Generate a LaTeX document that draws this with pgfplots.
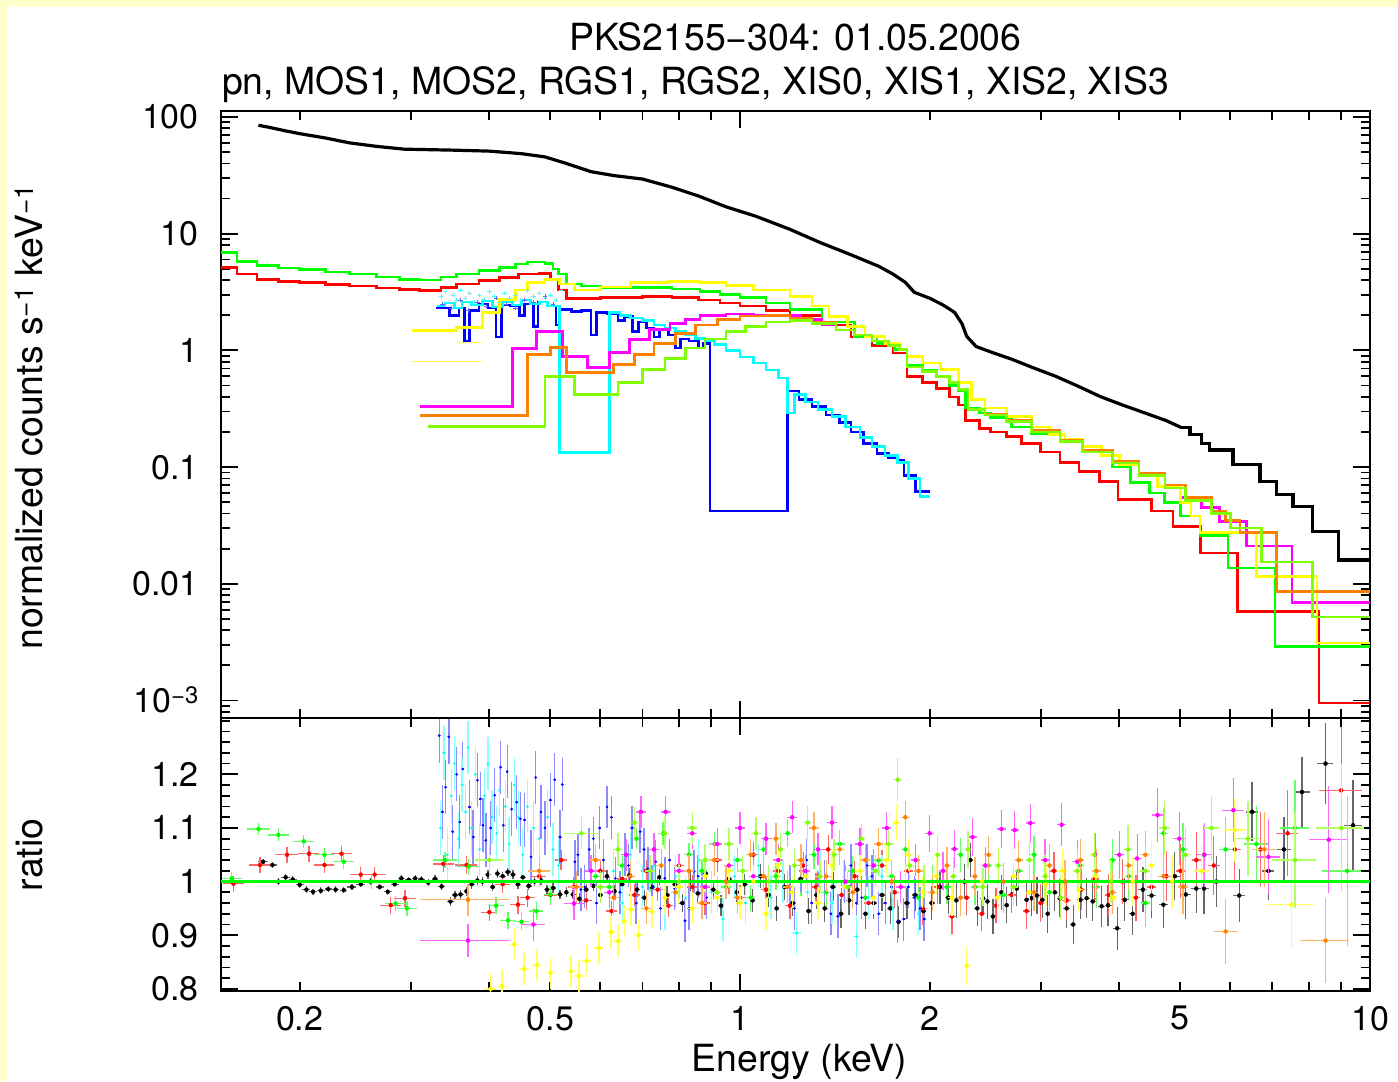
\documentclass[border=0pt]{standalone}
\usepackage{fontspec}
\setmainfont{TeX Gyre Heros}
\usepackage{pgfplots}
\pgfplotsset{compat=1.18}
\definecolor{bgyel}{HTML}{FFFFCC}
\definecolor{xlime}{HTML}{80FF00}
\definecolor{xorange}{HTML}{FF8000}
\definecolor{xred}{HTML}{FF0000}
\definecolor{xgreen}{HTML}{00FF00}
\definecolor{xblue}{HTML}{0000FF}
\definecolor{xcyan}{HTML}{00FFFF}
\definecolor{xmagenta}{HTML}{FF00FF}
\definecolor{xyellow}{HTML}{FFFF00}
\newcommand{\tfont}{\fontsize{37.4bp}{44bp}\selectfont}
\newcommand{\kfont}{\fontsize{34bp}{40bp}\selectfont}
\pgfplotsset{
  mdl/.style={const plot mark left, no marks, line width=2.6bp, color=#1},
  ratiopts/.style={only marks, mark=none, color=#1,
    error bars/.cd, x dir=both, x explicit, y dir=both, y explicit, error mark=none,
    error bar style={line width=1.3bp, color=#1!60!white}},
  ratiodots/.style={only marks, mark=*, mark size=1.1bp, color=#1, mark options={draw=none, fill=#1},
    error bars/.cd, x dir=both, x explicit, y dir=both, y explicit, error mark=none,
    error bar style={line width=1.3bp, color=#1!45!white}},
}
\begin{document}
\begin{tikzpicture}[x=1bp,y=1bp]
\fill[bgyel] (0,0) rectangle (1398,1081);
\fill[white] (7,0) rectangle (1398,1074);
\path[use as bounding box] (0,0) rectangle (1398,1081);

\node[font=\tfont, anchor=base, inner sep=0pt] at (795.5,1030) {PKS2155−304: 01.05.2006};
\node[font=\tfont, anchor=base west, inner sep=0pt] at (222,986) {pn, MOS1, MOS2, RGS1, RGS2, XIS0, XIS1, XIS2, XIS3};
\node[font=\tfont, anchor=base, inner sep=0pt, rotate=90] at (42,664) {normalized counts s\textsuperscript{−1} keV\textsuperscript{−1}};
\node[font=\tfont, anchor=base, inner sep=0pt, rotate=90] at (42,226) {ratio};
\node[font=\tfont, anchor=base, inner sep=0pt] at (799.5,10) {Energy (keV)};

% ---------------- top panel ----------------
\begin{axis}[at={(221bp,363bp)}, anchor=south west,
  scale only axis, width=1149bp, height=607bp,
  xmode=log, ymode=log, xmin=0.150, xmax=10, ymin=7.08e-4, ymax=112.6,
  axis line style={line width=2.4bp}, tick style={line width=1.8bp, black},
  major tick length=17bp, minor tick length=9bp, tick align=inside,
  xtick pos=both, ytick pos=both,
  tick label style={font=\kfont, inner sep=0pt},
  yticklabel style={anchor=base east, xshift=-22bp, yshift=-12bp},
  xtick={1,10}, xticklabels={,},
  minor xtick={0.2,0.3,0.4,0.5,0.6,0.7,0.8,0.9,2,3,4,5,6,7,8,9},
  ytick={0.001,0.01,0.1,1,10,100},
  yticklabels={10\textsuperscript{−3},0.01,0.1,1,10,100},
  minor ytick={0.0008,0.0009,0.002,0.003,0.004,0.005,0.006,0.007,0.008,0.009,
    0.02,0.03,0.04,0.05,0.06,0.07,0.08,0.09,0.2,0.3,0.4,0.5,0.6,0.7,0.8,0.9,
    2,3,4,5,6,7,8,9,20,30,40,50,60,70,80,90}]
% pn
\addplot[line width=3.2bp, black] coordinates {(0.172,85)(0.18,81)(0.19,76)(0.2,72)(0.22,66)(0.24,60)(0.265,56)(0.293,53)(0.32,52.5)(0.35,52)(0.4,51)(0.45,48.5)(0.49,45.5)(0.53,40)(0.58,34)(0.63,31.5)(0.7,29.4)(0.78,25)(0.86,21)(0.95,17)(1.06,14.1)(1.2,10.9)(1.34,8.4)(1.5,6.6)(1.66,5.26)(1.75,4.5)(1.83,3.83)(1.89,3.15)(2.0,2.8)(2.1,2.45)(2.19,2.12)(2.25,1.7)(2.29,1.32)(2.37,1.08)(2.5,0.97)(2.7,0.84)(2.9,0.72)(3.17,0.6)(3.45,0.49)(3.74,0.40)(4.05,0.34)(4.4,0.29)(4.75,0.25)(5.0,0.22)};
\addplot[const plot mark left, no marks, line width=3.2bp, black] coordinates {(5.0,0.22)(5.18,0.19)(5.4,0.16)(5.57,0.14)(6.06,0.105)(6.69,0.075)(7.11,0.058)(7.55,0.046)(8.11,0.028)(8.9,0.016)(10,0.016)};
% MOS1
\addplot[mdl=xred] coordinates {(0.150,5.16)(0.159,4.5)(0.171,4.06)(0.185,3.9)(0.2,3.8)(0.22,3.65)(0.24,3.55)(0.265,3.42)(0.288,3.33)(0.31,3.27)(0.335,3.45)(0.355,3.7)(0.385,3.95)(0.415,4.23)(0.445,4.5)(0.48,4.58)(0.5,4.06)(0.515,3.3)(0.53,2.8)(0.6,2.85)(0.7,2.9)(0.78,2.85)(0.86,2.7)(0.93,2.55)(1.0,2.4)(1.1,2.2)(1.2,2.0)(1.35,1.65)(1.5,1.3)(1.62,1.1)(1.75,0.95)(1.84,0.6)(1.95,0.53)(2.05,0.47)(2.15,0.4)(2.22,0.34)(2.28,0.25)(2.4,0.215)(2.5,0.2)(2.65,0.183)(2.8,0.16)(3.0,0.135)(3.22,0.11)(3.45,0.092)(3.72,0.075)(3.98,0.0525)(4.5,0.042)(4.87,0.031)(5.38,0.0184)(6.16,0.0058)(8.3,0.00095)(10,0.00095)};
% MOS2
\addplot[mdl=xgreen] coordinates {(0.150,6.9)(0.159,5.8)(0.171,5.35)(0.185,5.1)(0.2,4.96)(0.22,4.7)(0.24,4.5)(0.265,4.25)(0.288,4.06)(0.31,4.0)(0.335,4.25)(0.355,4.5)(0.385,4.85)(0.415,5.16)(0.44,5.5)(0.46,5.7)(0.49,5.55)(0.505,5.0)(0.515,4.5)(0.53,3.7)(0.56,3.55)(0.6,3.47)(0.7,3.45)(0.78,3.35)(0.864,3.2)(0.93,3.0)(1.0,2.85)(1.1,2.55)(1.2,2.25)(1.35,1.75)(1.52,1.32)(1.65,1.15)(1.76,1.02)(1.84,0.75)(1.95,0.68)(2.05,0.6)(2.15,0.5)(2.22,0.45)(2.28,0.32)(2.4,0.29)(2.5,0.265)(2.7,0.22)(2.9,0.195)(3.22,0.165)(3.5,0.135)(3.9,0.1)(4.17,0.074)(4.47,0.06)(4.72,0.05)(5.0,0.038)(5.37,0.026)(5.95,0.0137)(7.07,0.0029)(10,0.0029)};
% RGS1
\addplot[mdl=xblue] coordinates {(0.329,2.3)(0.346,2.0)(0.358,2.3)(0.365,1.2)(0.372,2.2)(0.385,2.5)(0.398,2.3)(0.41,1.3)(0.418,2.45)(0.432,2.4)(0.447,2.0)(0.455,2.5)(0.47,1.6)(0.478,2.6)(0.495,2.4)(0.51,1.65)(0.518,2.25)(0.54,2.15)(0.56,2.2)(0.58,1.35)(0.592,2.1)(0.615,2.05)(0.64,1.8)(0.655,1.95)(0.675,1.45)(0.69,1.75)(0.71,1.55)(0.73,1.3)(0.745,1.5)(0.77,1.35)(0.79,1.05)(0.805,1.25)(0.83,1.2)(0.86,1.05)(0.875,1.15)(0.896,0.042)(1.19,0.45)(1.24,0.38)(1.30,0.33)(1.37,0.28)(1.44,0.24)(1.5,0.2)(1.57,0.16)(1.65,0.13)(1.72,0.12)(1.78,0.115)(1.82,0.085)(1.9,0.062)(2.0,0.062)};
% RGS2
\addplot[mdl=xcyan] coordinates {(0.33,2.4)(0.34,2.55)(0.352,2.3)(0.362,2.6)(0.375,2.45)(0.39,2.65)(0.405,2.35)(0.42,2.6)(0.435,2.45)(0.45,2.7)(0.465,2.5)(0.48,2.6)(0.495,2.4)(0.517,0.133)(0.621,2.1)(0.645,2.0)(0.67,1.9)(0.7,1.8)(0.73,1.65)(0.76,1.55)(0.79,1.45)(0.82,1.35)(0.85,1.27)(0.88,1.2)(0.91,1.12)(0.95,1.0)(1.0,0.88)(1.05,0.78)(1.1,0.68)(1.15,0.58)(1.19,0.29)(1.22,0.42)(1.27,0.36)(1.33,0.31)(1.4,0.27)(1.47,0.22)(1.55,0.18)(1.62,0.15)(1.7,0.125)(1.78,0.11)(1.85,0.08)(1.93,0.056)(2.0,0.056)};
\addplot[only marks, mark=+, mark size=2.2bp, xcyan!70!white] coordinates {(0.335,2.9)(0.34,3.2)(0.345,2.6)(0.35,3.0)(0.355,2.7)(0.36,3.3)(0.366,2.8)(0.372,3.1)(0.378,2.6)(0.385,3.0)(0.392,2.75)(0.4,3.2)(0.407,2.9)(0.415,2.6)(0.423,3.1)(0.43,2.8)(0.44,3.0)(0.45,2.7)(0.46,3.25)(0.47,2.9)(0.48,3.1)(0.49,2.8)(0.5,3.0)(0.51,2.7)(0.52,3.3)};
\addplot[only marks, mark=+, mark size=2.2bp, xblue!60!white] coordinates {(0.337,2.5)(0.348,2.3)(0.36,2.7)(0.37,2.2)(0.383,2.6)(0.395,2.4)(0.41,2.8)(0.425,2.5)(0.44,2.3)(0.455,2.7)(0.47,2.6)(0.49,2.9)(0.505,2.5)};
% XIS0
\addplot[mdl=xmagenta] coordinates {(0.31,0.33)(0.435,1.04)(0.475,1.46)(0.523,0.888)(0.573,0.715)(0.621,0.96)(0.668,1.24)(0.719,1.51)(0.774,1.7)(0.82,1.85)(0.864,2.0)(0.95,2.05)(1.05,2.0)(1.15,1.98)(1.25,1.85)(1.35,1.65)(1.42,1.5)(1.52,1.35)(1.62,1.2)(1.72,1.1)(1.79,1.02)(1.84,0.72)(1.95,0.66)(2.05,0.6)(2.15,0.53)(2.22,0.46)(2.3,0.31)(2.45,0.28)(2.65,0.246)(2.9,0.2)(3.22,0.165)(3.5,0.135)(3.9,0.11)(4.3,0.085)(4.73,0.068)(5.0,0.055)(5.4,0.045)(5.77,0.034)(6.37,0.021)(7.52,0.0069)(10,0.0069)};
% XIS1
\addplot[mdl=xyellow] coordinates {(0.302,1.48)(0.355,1.58)(0.39,2.1)(0.415,2.74)(0.44,3.3)(0.46,3.8)(0.49,4.06)(0.517,3.7)(0.546,3.3)(0.6,3.5)(0.67,3.8)(0.77,3.9)(0.864,3.83)(0.95,3.6)(1.05,3.3)(1.2,2.9)(1.3,2.4)(1.385,1.96)(1.48,1.6)(1.58,1.32)(1.7,1.15)(1.79,1.02)(1.84,0.89)(1.95,0.78)(2.08,0.69)(2.22,0.53)(2.33,0.38)(2.45,0.32)(2.65,0.27)(2.9,0.22)(3.1,0.19)(3.28,0.172)(3.5,0.15)(3.75,0.125)(4.0,0.105)(4.3,0.088)(4.6,0.068)(5.0,0.05)(5.2,0.038)(5.37,0.0275)(6.6,0.0115)(8.24,0.0031)(10,0.0031)};
\addplot[xyellow!70!white, line width=1.3bp] coordinates {(0.30,0.8)(0.39,0.8)};
\addplot[xyellow!70!white, line width=1.3bp] coordinates {(0.355,1.17)(0.39,1.17)};
% XIS2
\addplot[mdl=xorange] coordinates {(0.31,0.277)(0.46,0.92)(0.5,1.06)(0.53,0.65)(0.63,0.76)(0.68,0.92)(0.73,1.15)(0.79,1.4)(0.85,1.65)(0.92,1.85)(1.0,1.97)(1.1,1.98)(1.2,1.9)(1.3,1.75)(1.42,1.5)(1.52,1.35)(1.62,1.2)(1.72,1.1)(1.79,1.02)(1.84,0.72)(1.95,0.66)(2.05,0.6)(2.15,0.53)(2.22,0.46)(2.3,0.31)(2.45,0.285)(2.65,0.25)(2.9,0.205)(3.22,0.17)(3.5,0.14)(3.9,0.112)(4.3,0.088)(4.73,0.07)(5.1,0.055)(5.6,0.042)(5.9,0.035)(6.22,0.0275)(7.11,0.0086)(10,0.0086)};
% XIS3
\addplot[mdl=xlime] coordinates {(0.32,0.223)(0.49,0.6)(0.546,0.42)(0.64,0.53)(0.7,0.69)(0.76,0.85)(0.82,1.05)(0.88,1.25)(0.95,1.45)(1.02,1.6)(1.1,1.75)(1.2,1.8)(1.3,1.7)(1.42,1.5)(1.52,1.35)(1.62,1.2)(1.72,1.1)(1.79,1.02)(1.84,0.72)(1.95,0.66)(2.05,0.6)(2.15,0.53)(2.22,0.46)(2.3,0.31)(2.45,0.28)(2.65,0.245)(2.9,0.2)(3.22,0.165)(3.5,0.135)(3.9,0.108)(4.3,0.085)(4.73,0.066)(5.1,0.052)(5.6,0.04)(6.0,0.03)(6.73,0.0154)(8.11,0.0052)(10,0.0052)};
\end{axis}

% ---------------- ratio panel, part 1 (data only) ----------------
\begin{axis}[at={(221bp,90bp)}, anchor=south west,
  scale only axis, width=1149bp, height=273bp,
  xmode=log, xmin=0.150, xmax=10, ymin=0.796, ymax=1.305, hide axis]
% pn
\addplot[ratiopts=black] table[x index=0,y index=1,x error index=2,y error index=3,row sep=\\] {
0.175 1.037 .003 .006\\ 0.181 1.031 .003 .006\\ 0.185 1.000 .003 .006\\ 0.190 1.008 .003 .006\\
0.195 1.004 .003 .006\\ 0.200 0.994 .003 .006\\ 0.205 0.985 .003 .006\\ 0.210 0.981 .003 .006\\
0.216 0.983 .003 .006\\ 0.222 0.986 .003 .006\\ 0.228 0.985 .003 .006\\ 0.235 0.984 .003 .006\\
0.242 0.990 .004 .006\\ 0.250 0.995 .004 .006\\ 0.259 1.000 .004 .006\\ 0.268 0.990 .004 .006\\
0.276 0.981 .004 .006\\ 0.283 0.995 .004 .006\\ 0.290 1.006 .004 .006\\ 0.298 1.003 .004 .006\\
0.305 1.006 .004 .006\\ 0.312 1.004 .004 .006\\ 0.320 0.998 .004 .006\\ 0.328 1.005 .004 .007\\
0.336 0.991 .004 .007\\ 0.347 0.963 .004 .008\\ 0.353 0.975 .004 .008\\ 0.360 0.976 .004 .008\\
0.368 0.982 .004 .008\\ 0.375 0.995 .004 .008\\ 0.383 1.002 .004 .008\\ 0.390 1.000 .004 .008\\
0.398 1.013 .004 .008\\ 0.405 0.990 .004 .008\\ 0.412 1.015 .004 .008\\ 0.420 1.010 .005 .008\\
0.428 1.018 .005 .008\\ 0.436 1.013 .005 .008\\ 0.444 0.995 .005 .008\\ 0.452 1.008 .005 .008\\
0.462 0.992 .005 .008\\ 0.472 1.000 .005 .008\\ 0.483 1.002 .005 .008\\ 0.494 0.985 .005 .009\\
0.505 0.988 .005 .009\\ 0.518 0.976 .005 .009\\ 0.530 0.980 .005 .009\\ 0.543 0.976 .006 .009\\
0.556 0.968 .006 .010\\ 0.570 0.985 .006 .010\\ 0.585 0.992 .006 .010\\ 0.600 0.975 .006 .012\\
0.615 1.010 .006 .012\\ 0.632 0.982 .007 .012\\ 0.650 0.995 .007 .012\\ 0.668 1.012 .007 .014\\
0.686 0.985 .007 .014\\ 0.705 0.970 .008 .015\\ 0.725 0.990 .008 .015\\ 0.745 1.008 .008 .015\\
0.766 0.975 .008 .016\\ 0.788 0.995 .008 .016\\ 0.810 0.960 .009 .017\\ 0.833 1.000 .009 .017\\
0.857 0.978 .009 .018\\ 0.882 1.015 .009 .018\\ 0.907 0.985 .010 .018\\ 0.933 0.955 .010 .020\\
0.960 1.005 .010 .020\\ 0.988 0.980 .010 .020\\ 1.017 0.995 .011 .020\\ 1.047 0.965 .011 .022\\
1.078 1.010 .011 .022\\ 1.110 0.975 .012 .022\\ 1.143 0.950 .012 .024\\ 1.177 0.990 .012 .024\\
1.212 0.960 .013 .024\\ 1.248 1.005 .013 .025\\ 1.285 0.945 .014 .025\\ 1.323 0.975 .014 .026\\
1.363 0.950 .014 .026\\ 1.404 0.990 .015 .027\\ 1.446 0.940 .015 .027\\ 1.490 0.965 .016 .028\\
1.535 0.985 .016 .028\\ 1.582 0.940 .017 .029\\ 1.630 0.960 .017 .029\\ 1.680 0.975 .018 .030\\
1.732 0.950 .018 .030\\ 1.785 0.925 .019 .030\\ 1.840 0.960 .019 .030\\ 1.897 0.975 .020 .030\\
1.955 0.945 .021 .031\\ 2.015 0.960 .021 .031\\ 2.077 0.990 .022 .031\\ 2.140 0.970 .022 .031\\
2.205 0.965 .023 .032\\ 2.270 1.000 .024 .032\\ 2.320 1.040 .025 .032\\ 2.380 0.950 .025 .032\\
2.430 0.969 .025 .032\\ 2.470 0.963 .025 .032\\ 2.520 0.935 .025 .032\\ 2.600 0.980 .025 .033\\
2.650 0.956 .025 .033\\ 2.700 0.976 .025 .033\\ 2.750 0.987 .025 .033\\ 2.850 0.966 .03 .034\\
2.900 0.969 .03 .034\\ 2.960 0.974 .03 .034\\ 3.020 0.966 .03 .034\\ 3.080 0.940 .03 .035\\
3.160 0.980 .04 .035\\ 3.220 0.969 .04 .035\\ 3.300 0.950 .04 .036\\ 3.380 0.920 .04 .036\\
3.470 0.966 .04 .036\\ 3.550 0.969 .04 .037\\ 3.630 0.963 .04 .037\\ 3.750 0.954 .05 .038\\
3.840 0.956 .05 .038\\ 3.970 0.913 .06 .040\\ 4.080 0.966 .06 .040\\ 4.200 0.940 .06 .040\\
4.360 0.985 .07 .042\\ 4.500 0.974 .07 .042\\ 4.700 0.957 .08 .044\\ 4.900 1.010 .09 .045\\
5.100 0.976 .10 .046\\ 5.300 0.987 .10 .046\\ 5.450 0.987 .10 .047\\ 5.700 1.000 .12 .048\\
6.200 0.974 .13 .050\\ 6.500 1.130 .15 .055\\ 6.900 1.020 .15 .055\\ 7.300 1.060 .18 .060\\
7.800 1.167 .22 .065\\ 8.500 1.220 .25 .075\\ 9.400 1.105 .30 .085\\
};
% MOS1
\addplot[ratiopts=xred] table[x index=0,y index=1,x error index=2,y error index=3,row sep=\\] {
0.157 0.996 .006 .015\\ 0.173 1.031 .007 .015\\ 0.191 1.050 .008 .015\\ 0.207 1.052 .008 .015\\
0.219 1.031 .008 .015\\ 0.233 1.052 .009 .015\\ 0.250 1.013 .010 .015\\ 0.263 1.013 .011 .015\\
0.279 0.956 .011 .016\\ 0.294 0.969 .012 .016\\ 0.338 1.033 .013 .016\\ 0.368 1.031 .015 .016\\
0.400 0.943 .012 .016\\ 0.420 0.995 .012 .016\\ 0.444 0.957 .012 .017\\ 0.460 0.970 .012 .017\\
0.480 1.010 .012 .017\\ 0.500 0.975 .012 .018\\ 0.520 1.040 .012 .018\\ 0.545 0.990 .012 .018\\
0.570 0.965 .012 .018\\ 0.600 1.020 .012 .019\\ 0.625 0.945 .012 .019\\ 0.650 1.005 .012 .020\\
0.680 0.975 .013 .020\\ 0.710 1.020 .013 .020\\ 0.740 0.985 .014 .021\\ 0.770 0.955 .014 .021\\
0.800 1.030 .015 .021\\ 0.840 0.990 .015 .022\\ 0.880 0.960 .016 .022\\ 0.920 1.040 .017 .022\\
0.960 1.000 .017 .023\\ 1.000 0.970 .018 .023\\ 1.050 1.050 .018 .024\\ 1.100 0.985 .019 .024\\
1.150 1.020 .020 .025\\ 1.200 0.955 .021 .025\\ 1.260 1.030 .022 .026\\ 1.320 0.990 .023 .026\\
1.380 1.060 .024 .027\\ 1.450 0.975 .025 .027\\ 1.520 1.010 .026 .028\\ 1.600 0.960 .027 .028\\
1.680 1.030 .028 .029\\ 1.760 0.980 .029 .030\\ 1.850 1.020 .030 .030\\ 1.950 0.950 .030 .031\\
2.060 0.990 .030 .031\\ 2.170 0.935 .030 .032\\ 2.290 0.970 .030 .032\\ 2.420 0.940 .030 .033\\
2.550 0.955 .030 .033\\ 2.700 0.975 .040 .034\\ 2.850 0.945 .040 .034\\ 3.000 0.960 .040 .035\\
3.150 1.020 .040 .036\\ 3.300 0.965 .050 .037\\ 3.480 0.985 .050 .038\\ 3.660 1.005 .050 .039\\
3.850 0.975 .050 .040\\ 4.050 1.000 .060 .042\\ 4.250 0.970 .060 .043\\ 4.500 0.990 .070 .045\\
4.750 1.010 .080 .047\\ 5.000 1.020 .080 .050\\ 5.300 1.040 .090 .052\\ 5.650 1.030 .120 .055\\
6.100 1.060 .150 .060\\ 6.700 1.060 .200 .070\\ 7.400 1.090 .300 .080\\ 9.000 1.170 .700 .130\\
};
% MOS2
\addplot[ratiopts=xgreen] table[x index=0,y index=1,x error index=2,y error index=3,row sep=\\] {
0.156 1.006 .006 .012\\ 0.172 1.098 .007 .012\\ 0.185 1.087 .007 .012\\ 0.203 1.075 .008 .012\\
0.219 1.050 .008 .013\\ 0.235 1.037 .009 .013\\ 0.260 1.000 .010 .013\\ 0.284 0.959 .011 .014\\
0.296 0.950 .011 .014\\ 0.340 1.040 .015 .015\\ 0.371 1.028 .015 .015\\ 0.410 0.955 .012 .016\\
0.428 0.928 .012 .016\\ 0.450 0.925 .012 .016\\ 0.475 0.945 .012 .017\\ 0.500 0.976 .012 .017\\
0.590 1.010 .012 .018\\ 0.620 0.990 .012 .019\\ 0.650 1.030 .012 .019\\ 0.685 1.080 .013 .020\\
0.720 1.000 .013 .020\\ 0.755 1.090 .014 .021\\ 0.790 0.980 .014 .021\\ 0.830 1.050 .015 .022\\
0.870 1.020 .016 .022\\ 0.910 1.070 .016 .022\\ 0.950 0.990 .017 .023\\ 0.990 1.040 .017 .023\\
1.040 0.970 .018 .024\\ 1.090 1.060 .019 .024\\ 1.140 1.010 .020 .025\\ 1.190 1.090 .021 .025\\
1.250 1.000 .022 .026\\ 1.310 1.050 .023 .026\\ 1.370 0.980 .024 .027\\ 1.440 1.070 .025 .027\\
1.510 1.020 .026 .028\\ 1.580 0.970 .027 .028\\ 1.660 1.040 .028 .029\\ 1.740 1.010 .029 .030\\
1.830 1.060 .030 .030\\ 1.920 0.970 .030 .031\\ 2.020 1.000 .030 .031\\ 2.130 0.990 .030 .032\\
2.240 1.050 .030 .032\\ 2.360 0.990 .030 .033\\ 2.480 1.030 .030 .033\\ 2.620 0.975 .040 .034\\
2.770 1.020 .040 .034\\ 2.930 1.050 .040 .035\\ 3.100 0.980 .040 .036\\ 3.280 1.000 .050 .037\\
3.470 1.030 .050 .038\\ 3.680 0.990 .050 .039\\ 3.900 1.040 .050 .040\\ 4.140 1.010 .060 .042\\
4.400 0.960 .070 .045\\ 4.700 1.090 .080 .047\\ 5.050 1.060 .090 .050\\ 5.450 1.050 .120 .055\\
5.900 1.060 .150 .060\\ 6.600 1.070 .300 .070\\ 7.600 1.100 .400 .090\\ 9.200 1.020 .800 .140\\
};
% RGS1
\addplot[ratiodots=xblue] table[x index=0,y index=1,x error index=2,y error index=3,row sep=\\] {
0.333 1.272 .002 .05\\ 0.337 1.130 .002 .05\\ 0.341 1.176 .002 .05\\ 0.345 1.270 .002 .05\\
0.350 1.093 .002 .05\\ 0.355 1.200 .002 .05\\ 0.359 1.111 .002 .05\\ 0.363 1.210 .002 .05\\
0.372 1.139 .002 .05\\ 0.377 1.083 .002 .05\\ 0.383 1.189 .002 .05\\ 0.387 1.154 .002 .05\\
0.391 1.105 .002 .05\\ 0.395 1.077 .002 .05\\ 0.402 1.100 .002 .05\\ 0.408 1.161 .002 .05\\
0.417 1.213 .002 .05\\ 0.421 1.105 .002 .05\\ 0.427 1.205 .002 .05\\ 0.434 1.135 .002 .05\\
0.442 1.148 .002 .05\\ 0.448 1.117 .002 .05\\ 0.455 1.115 .002 .05\\ 0.466 1.046 .002 .05\\
0.474 1.194 .002 .05\\ 0.483 1.130 .002 .05\\ 0.490 1.100 .002 .05\\ 0.500 1.152 .003 .05\\
0.508 1.190 .003 .05\\ 0.518 1.083 .003 .05\\ 0.522 1.181 .003 .05\\ 0.547 1.037 .003 .04\\
0.559 0.985 .003 .04\\ 0.576 1.060 .003 .04\\ 0.599 1.100 .003 .04\\ 0.615 1.139 .003 .04\\
0.634 1.006 .004 .04\\ 0.657 1.050 .004 .04\\ 0.674 1.100 .004 .04\\ 0.694 1.093 .004 .04\\
0.714 1.024 .004 .04\\ 0.735 1.037 .004 .04\\ 0.760 1.006 .004 .04\\ 0.788 0.987 .005 .04\\
0.818 0.927 .005 .04\\ 0.845 1.019 .005 .04\\ 0.870 0.980 .005 .04\\ 1.200 0.990 .008 .04\\
1.250 1.020 .008 .04\\ 1.300 0.960 .008 .04\\ 1.360 1.000 .008 .04\\ 1.430 0.935 .010 .04\\
1.500 1.030 .010 .04\\ 1.560 0.970 .010 .04\\ 1.620 1.010 .010 .04\\ 1.700 0.960 .012 .04\\
1.780 0.926 .012 .04\\ 1.850 0.990 .012 .04\\ 1.930 0.950 .012 .04\\
0.553 1.050 .003 .04\\ 0.567 0.990 .003 .04\\ 0.585 1.080 .003 .04\\ 0.592 0.960 .003 .04\\
0.607 1.040 .003 .04\\ 0.625 1.120 .004 .04\\ 0.645 0.980 .004 .04\\ 0.665 1.030 .004 .04\\
0.684 0.960 .004 .04\\ 0.704 1.060 .004 .04\\ 0.725 0.990 .004 .04\\ 0.748 0.950 .004 .04\\
0.773 1.040 .005 .04\\ 0.800 1.000 .005 .04\\ 0.830 0.950 .005 .04\\ 0.858 1.010 .005 .04\\
0.885 0.970 .005 .04\\ 1.220 0.950 .008 .04\\ 1.275 1.040 .008 .04\\ 1.330 0.980 .008 .04\\
1.395 0.940 .010 .04\\ 1.465 1.000 .010 .04\\ 1.530 0.960 .010 .04\\ 1.590 1.030 .010 .04\\
1.660 0.940 .012 .04\\ 1.740 0.990 .012 .04\\ 1.820 0.930 .012 .04\\ 1.890 0.970 .012 .04\\
1.960 0.930 .012 .04\\
};
% RGS2
\addplot[ratiodots=xcyan] table[x index=0,y index=1,x error index=2,y error index=3,row sep=\\] {
0.335 1.100 .002 .05\\ 0.339 1.240 .002 .05\\ 0.343 1.050 .002 .05\\ 0.348 1.160 .002 .05\\
0.352 1.220 .002 .05\\ 0.357 1.080 .002 .05\\ 0.362 1.180 .002 .05\\ 0.367 1.130 .002 .05\\
0.370 1.250 .002 .05\\ 0.375 1.100 .002 .05\\ 0.380 1.200 .002 .05\\ 0.386 1.060 .002 .05\\
0.393 1.160 .002 .05\\ 0.398 1.220 .002 .05\\ 0.404 1.120 .002 .05\\ 0.411 1.090 .002 .05\\
0.415 1.170 .002 .05\\ 0.424 1.140 .002 .05\\ 0.430 1.070 .002 .05\\ 0.438 1.180 .002 .05\\
0.445 1.120 .002 .05\\ 0.452 1.050 .002 .05\\ 0.460 1.140 .002 .05\\ 0.470 1.100 .002 .05\\
0.480 1.080 .002 .05\\ 0.495 1.120 .003 .05\\ 0.505 1.060 .003 .05\\ 0.515 1.030 .003 .05\\
0.630 1.020 .004 .04\\ 0.650 0.960 .004 .04\\ 0.670 1.050 .004 .04\\ 0.700 0.990 .004 .04\\
0.730 1.030 .004 .04\\ 0.760 0.950 .004 .04\\ 0.790 1.010 .005 .04\\ 0.820 0.970 .005 .04\\
0.860 1.040 .005 .04\\ 0.900 0.980 .006 .04\\ 0.940 0.930 .006 .04\\ 0.980 1.010 .006 .04\\
1.020 0.960 .006 .04\\ 1.070 1.030 .007 .04\\ 1.120 0.970 .007 .04\\ 1.170 1.000 .008 .04\\
1.230 0.904 .020 .04\\ 1.280 0.980 .008 .04\\ 1.340 1.020 .008 .04\\ 1.400 0.960 .010 .04\\
1.460 1.000 .010 .04\\ 1.530 0.898 .020 .04\\ 1.600 0.970 .010 .04\\ 1.680 1.010 .012 .04\\
1.750 0.950 .012 .04\\ 1.830 0.990 .012 .04\\ 1.920 0.940 .012 .04\\
};
\end{axis}

% ---------------- ratio panel, part 2 (with frame) ----------------
\begin{axis}[at={(221bp,90bp)}, anchor=south west,
  scale only axis, width=1149bp, height=273bp,
  xmode=log, xmin=0.150, xmax=10, ymin=0.796, ymax=1.305,
  axis line style={line width=2.4bp}, tick style={line width=1.8bp, black},
  major tick length=17bp, minor tick length=9bp, tick align=inside,
  xtick pos=both, ytick pos=both,
  tick label style={font=\kfont, inner sep=0pt},
  xticklabel style={anchor=north, yshift=-15bp},
  yticklabel style={anchor=base east, xshift=-22bp, yshift=-12bp},
  xtick={1,10}, xticklabels={1,10},
  minor xtick={0.2,0.3,0.4,0.5,0.6,0.7,0.8,0.9,2,3,4,5,6,7,8,9},
  extra x ticks={0.2,0.5,2,5}, extra x tick labels={0.2,0.5,2,5},
  extra x tick style={major tick length=0pt},
  ytick={0.8,0.9,1,1.1,1.2}, yticklabels={0.8,0.9,1,1.1,1.2},
  minor ytick={0.82,0.84,0.86,0.88,0.92,0.94,0.96,0.98,1.02,1.04,1.06,1.08,1.12,1.14,1.16,1.18,1.22,1.24,1.26,1.28,1.3}]
% XIS0
\addplot[ratiopts=xmagenta] table[x index=0,y index=1,x error index=2,y error index=3,row sep=\\] {
0.370 0.890 .060 .03\\ 0.470 0.920 .020 .03\\ 0.545 0.959 .020 .03\\ 0.580 1.020 .012 .03\\
0.620 0.980 .012 .03\\ 0.660 1.050 .012 .03\\ 0.696 1.130 .012 .03\\ 0.730 1.060 .013 .03\\
0.762 1.130 .014 .03\\ 0.800 1.020 .014 .03\\ 0.840 1.090 .015 .03\\ 0.880 0.990 .016 .03\\
0.920 1.070 .016 .03\\ 0.960 1.030 .017 .03\\ 1.000 1.100 .018 .03\\ 1.050 1.010 .018 .03\\
1.100 1.080 .019 .03\\ 1.150 1.040 .020 .03\\ 1.210 1.120 .021 .03\\ 1.270 1.020 .022 .03\\
1.330 1.060 .023 .03\\ 1.400 1.110 .024 .03\\ 1.470 1.000 .025 .03\\ 1.550 1.070 .026 .03\\
1.630 1.030 .027 .03\\ 1.710 1.100 .028 .03\\ 1.800 0.990 .029 .03\\ 1.900 1.040 .030 .03\\
2.000 1.090 .030 .035\\ 2.100 1.020 .030 .035\\ 2.190 1.061 .030 .035\\ 2.340 1.083 .040 .035\\
2.450 1.030 .040 .035\\ 2.600 1.098 .040 .035\\ 2.730 1.096 .040 .035\\ 2.890 1.109 .050 .035\\
3.050 1.040 .050 .040\\ 3.240 1.106 .050 .040\\ 3.430 1.037 .060 .040\\ 3.660 1.050 .060 .040\\
4.000 1.050 .070 .045\\ 4.270 1.043 .080 .045\\ 4.600 1.124 .100 .050\\ 4.980 1.080 .120 .050\\
5.460 1.050 .150 .060\\ 6.070 1.133 .250 .060\\ 6.900 1.046 .300 .070\\ 8.600 1.078 .600 .100\\
};
% XIS1
\addplot[ratiopts=xyellow] table[x index=0,y index=1,x error index=2,y error index=3,row sep=\\] {
0.402 0.800 .008 .03\\ 0.419 0.805 .008 .03\\ 0.438 0.883 .008 .03\\ 0.454 0.837 .008 .03\\
0.476 0.844 .009 .03\\ 0.500 0.830 .009 .03\\ 0.539 0.833 .009 .03\\ 0.555 0.824 .009 .03\\
0.571 0.852 .009 .03\\ 0.597 0.876 .010 .03\\ 0.624 0.906 .010 .03\\ 0.640 0.889 .010 .03\\
0.655 0.926 .010 .03\\ 0.671 0.948 .011 .03\\ 0.690 0.900 .011 .03\\ 0.725 0.944 .011 .03\\
0.760 0.970 .012 .03\\ 0.800 0.990 .013 .03\\ 0.840 0.950 .014 .03\\ 0.880 1.010 .014 .03\\
0.920 0.970 .015 .03\\ 0.960 1.020 .016 .03\\ 1.000 0.960 .016 .03\\ 1.050 1.000 .017 .03\\
1.100 0.940 .018 .03\\ 1.150 1.030 .019 .03\\ 1.210 0.980 .020 .03\\ 1.270 1.010 .021 .03\\
1.330 0.960 .022 .03\\ 1.400 1.030 .023 .03\\ 1.470 0.990 .024 .03\\ 1.550 1.020 .025 .03\\
1.630 0.970 .026 .03\\ 1.710 1.040 .027 .03\\ 1.770 1.110 .028 .035\\ 1.850 1.050 .029 .03\\
1.950 0.980 .030 .03\\ 2.050 1.010 .030 .035\\ 2.170 0.970 .030 .035\\ 2.290 0.843 .030 .035\\
2.420 1.000 .040 .035\\ 2.560 0.970 .040 .035\\ 2.720 1.010 .040 .035\\ 2.880 0.980 .040 .035\\
3.060 0.995 .050 .040\\ 3.250 1.020 .050 .040\\ 3.450 0.985 .050 .040\\ 3.670 1.010 .060 .040\\
3.920 0.970 .060 .040\\ 4.200 1.000 .070 .045\\ 4.500 1.030 .080 .045\\ 4.850 1.000 .100 .050\\
5.400 1.020 .150 .050\\ 6.100 1.096 .250 .060\\ 7.500 0.957 .650 .080\\
};
% XIS2
\addplot[ratiopts=xorange] table[x index=0,y index=1,x error index=2,y error index=3,row sep=\\] {
0.370 0.966 .060 .03\\ 0.480 1.020 .020 .03\\ 0.550 0.990 .015 .03\\ 0.590 1.040 .012 .03\\
0.630 0.970 .012 .03\\ 0.670 1.010 .012 .03\\ 0.710 0.950 .013 .03\\ 0.750 1.030 .014 .03\\
0.790 0.980 .014 .03\\ 0.830 1.020 .015 .03\\ 0.870 0.960 .016 .03\\ 0.910 1.040 .016 .03\\
0.950 1.000 .017 .03\\ 0.990 0.970 .017 .03\\ 1.040 1.050 .018 .03\\ 1.090 1.010 .019 .03\\
1.140 1.080 .020 .03\\ 1.190 0.990 .021 .03\\ 1.250 1.040 .022 .03\\ 1.310 1.100 .023 .03\\
1.370 1.010 .024 .03\\ 1.440 1.060 .025 .03\\ 1.510 0.980 .026 .03\\ 1.580 1.040 .027 .03\\
1.660 1.070 .028 .03\\ 1.740 1.000 .029 .03\\ 1.830 1.120 .030 .03\\ 1.920 1.020 .030 .03\\
2.020 0.980 .030 .035\\ 2.130 1.030 .030 .035\\ 2.240 0.970 .030 .035\\ 2.360 1.010 .030 .035\\
2.480 1.050 .040 .035\\ 2.620 1.000 .040 .035\\ 2.770 1.040 .040 .035\\ 2.930 0.980 .040 .035\\
3.100 1.030 .050 .040\\ 3.280 1.000 .050 .040\\ 3.470 1.040 .050 .040\\ 3.680 1.020 .060 .040\\
3.900 0.980 .060 .040\\ 4.140 1.030 .070 .045\\ 4.400 1.050 .080 .045\\ 4.700 1.010 .090 .050\\
5.050 0.990 .100 .050\\ 5.900 0.907 .250 .060\\ 6.800 1.060 .300 .070\\ 8.500 0.890 .750 .080\\
};
% XIS3
\addplot[ratiopts=xlime] table[x index=0,y index=1,x error index=2,y error index=3,row sep=\\] {
0.400 1.040 .020 .03\\ 0.560 1.090 .035 .03\\ 0.600 0.990 .012 .03\\ 0.640 1.060 .012 .03\\
0.680 1.110 .013 .03\\ 0.720 1.020 .013 .03\\ 0.760 1.090 .014 .03\\ 0.800 1.000 .014 .03\\
0.840 1.100 .015 .03\\ 0.880 1.040 .016 .03\\ 0.920 0.980 .016 .03\\ 0.960 1.070 .017 .03\\
1.010 1.020 .018 .03\\ 1.060 1.090 .018 .03\\ 1.110 1.000 .019 .03\\ 1.160 1.060 .020 .03\\
1.220 1.030 .021 .03\\ 1.280 1.110 .022 .03\\ 1.340 1.010 .023 .03\\ 1.410 1.050 .024 .03\\
1.480 0.990 .025 .03\\ 1.560 1.080 .026 .03\\ 1.640 1.020 .027 .03\\ 1.720 1.070 .028 .03\\
1.780 1.190 .028 .04\\ 1.860 1.030 .029 .03\\ 1.960 1.000 .030 .03\\ 2.060 1.050 .030 .035\\
2.180 1.010 .030 .035\\ 2.300 1.060 .030 .035\\ 2.430 0.990 .040 .035\\ 2.570 1.030 .040 .035\\
2.720 0.990 .040 .035\\ 2.880 1.040 .040 .035\\ 3.050 1.010 .050 .040\\ 3.230 0.970 .050 .040\\
3.430 1.020 .050 .040\\ 3.650 1.050 .060 .040\\ 3.880 1.000 .060 .040\\ 4.130 1.060 .070 .045\\
4.400 1.020 .080 .045\\ 4.720 1.100 .090 .050\\ 5.100 1.050 .100 .050\\ 5.600 1.100 .150 .060\\
6.400 1.080 .300 .070\\ 7.600 1.040 .600 .090\\ 9.000 1.100 .800 .120\\
};
\addplot[xgreen, line width=3.5bp] coordinates {(0.15,1)(10,1)};
\end{axis}
\end{tikzpicture}
\end{document}
